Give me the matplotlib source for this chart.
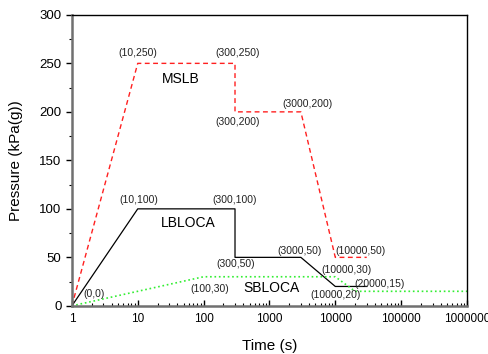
"""Pressure vs time curves for MSLB / LBLOCA / SBLOCA."""
import matplotlib
matplotlib.use('Agg')
import matplotlib.pyplot as plt
from matplotlib.ticker import LogLocator, FixedLocator, FuncFormatter

plt.rcParams.update({
    'font.family': ['Liberation Sans', 'DejaVu Sans'],
    'font.size': 9,
})

# ── Data ──
mslb_t = [1, 10, 300, 300, 3000, 10000, 30000]
mslb_p = [0, 250, 250, 200, 200, 50, 50]

lbloca_t = [1, 10, 300, 300, 3000, 10000, 30000]
lbloca_p = [0, 100, 100, 50, 50, 20, 20]

sbloca_t = [1, 100, 10000, 20000, 1000000]
sbloca_p = [0, 30, 30, 15, 15]

# point labels: (text, x, y)
point_labels = [
    ('(10,250)', 10, 261), ('(300,250)', 330, 261), ('(300,200)', 330, 190),
    ('(3000,200)', 3800, 208), ('(10000,50)', 24000, 57),
    ('(10,100)', 10.5, 109), ('(300,100)', 300, 109), ('(300,50)', 310, 43),
    ('(3000,50)', 2900, 57), ('(10000,30)', 15000, 37),
    ('(20000,15)', 47000, 23), ('(10000,20)', 10000, 11),
    ('(100,30)', 126, 17.5), ('(0,0)', 2.2, 12),
]
series_labels = [('MSLB', 45, 234), ('LBLOCA', 58, 85), ('SBLOCA', 1070, 18)]

fig = plt.figure(figsize=(4.89, 3.54), dpi=100)
ax = fig.add_axes([0.147, 0.136, 0.808, 0.822])

ax.plot(mslb_t, mslb_p, '--', color='#ff2020', lw=1.0, dashes=(3.5, 2.5))
ax.plot(lbloca_t, lbloca_p, '-', color='black', lw=0.9)
ax.plot(sbloca_t, sbloca_p, ':', color='#33ee33', lw=1.2)

for txt, x, y in point_labels:
    ax.text(x, y, txt, ha='center', va='center', fontsize=7.5, color='#222222')
for txt, x, y in series_labels:
    ax.text(x, y, txt, ha='center', va='center', fontsize=10)

ax.set_xscale('log')
ax.set_xlim(1, 1000000)
ax.set_ylim(0, 300)
ax.xaxis.set_major_locator(LogLocator(base=10, numticks=10))
ax.xaxis.set_minor_locator(LogLocator(base=10, subs=range(2, 10), numticks=20))
ax.xaxis.set_major_formatter(FuncFormatter(lambda v, p: '%d' % round(v)))
ax.yaxis.set_major_locator(FixedLocator(range(0, 301, 50)))
ax.yaxis.set_minor_locator(FixedLocator(range(25, 300, 50)))

ax.tick_params(axis='x', which='major', direction='in', length=4, width=1,
               labelsize=8.5, pad=5)
ax.tick_params(axis='x', which='minor', direction='in', length=2.5, width=0.8)
ax.tick_params(axis='y', which='major', direction='out', length=4, width=1,
               labelsize=9.5)
ax.tick_params(axis='y', which='minor', direction='out', length=2, width=0.8)

for side in ('left', 'bottom'):
    ax.spines[side].set_color('#707070')
    ax.spines[side].set_linewidth(1.8)
for side in ('top', 'right'):
    ax.spines[side].set_color('black')
    ax.spines[side].set_linewidth(1.0)

ax.set_xlabel('Time (s)', fontsize=11, labelpad=10)
ax.set_ylabel('Pressure (kPa(g))', fontsize=11, labelpad=12)

fig.savefig('out.png', dpi=100)
